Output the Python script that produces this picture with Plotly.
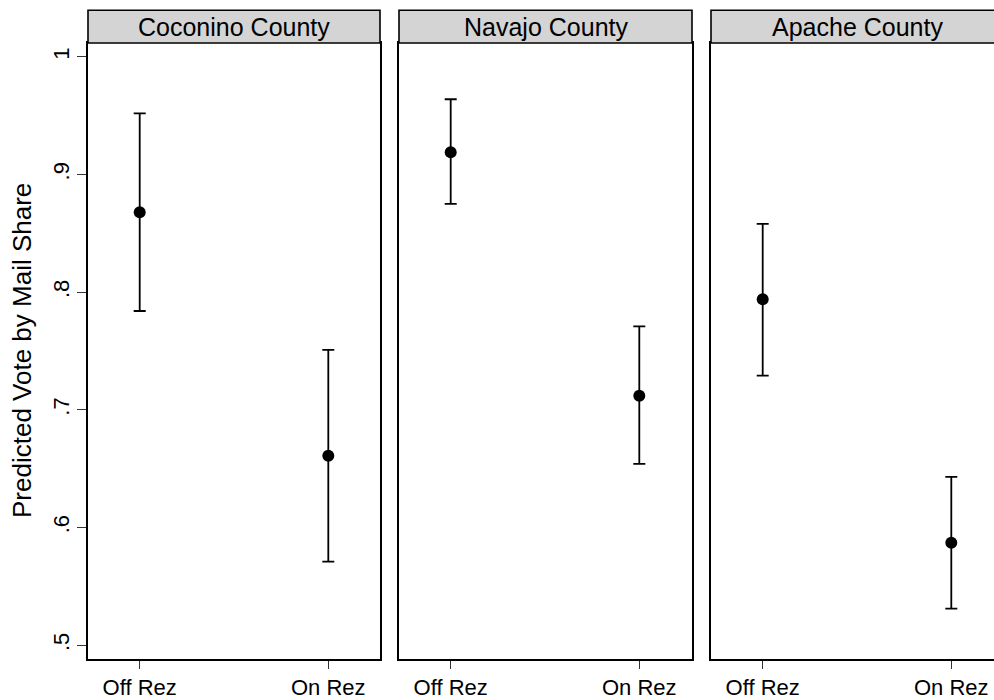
import plotly.graph_objects as go

# ---- data ----
counties = ["Coconino County", "Navajo County", "Apache County"]
categories = ["Off Rez", "On Rez"]
estimate = {
    "Coconino County": [0.868, 0.661],
    "Navajo County": [0.919, 0.712],
    "Apache County": [0.794, 0.587],
}
lower = {
    "Coconino County": [0.784, 0.571],
    "Navajo County": [0.875, 0.654],
    "Apache County": [0.729, 0.531],
}
upper = {
    "Coconino County": [0.952, 0.751],
    "Navajo County": [0.964, 0.771],
    "Apache County": [0.858, 0.643],
}
y_tickvals = [0.5, 0.6, 0.7, 0.8, 0.9, 1.0]
y_ticktext = [".5", ".6", ".7", ".8", ".9", "1"]
y_title = "Predicted Vote by Mail Share"

# ---- layout geometry (pixels) ----
W, H = 994, 700
ML, MR, MT, MB = 88, 0, 43, 36
PW = W - ML - MR
PH = H - MT - MB
panels_px = [(88, 380), (399, 692), (711, 994)]
full_right3 = 1003  # panel 3 continues past the window edge
domains = [((a - ML) / PW, (b - ML) / PW) for a, b in panels_px]
cat_step = 188.6
pad = 51.7 / cat_step
strip_h = 33 / PH
FONT = "Liberation Sans, Arial, Helvetica, sans-serif"

fig = go.Figure()
for i, c in enumerate(counties):
    est = estimate[c]
    fig.add_trace(go.Scatter(
        x=categories, y=est,
        mode="markers",
        marker=dict(color="black", size=12, symbol="circle"),
        error_y=dict(
            type="data", symmetric=False,
            array=[u - e for u, e in zip(upper[c], est)],
            arrayminus=[e - l for e, l in zip(est, lower[c])],
            color="black", thickness=1.8, width=6,
        ),
        xaxis=f"x{i+1 if i else ''}", yaxis=f"y{i+1 if i else ''}",
        showlegend=False, hoverinfo="skip",
    ))

layout = dict(
    width=W, height=H,
    margin=dict(l=ML, r=MR, t=MT, b=MB, pad=0),
    paper_bgcolor="white", plot_bgcolor="white",
    font=dict(family=FONT, color="black", size=22),
    shapes=[], annotations=[],
)
for i, c in enumerate(counties):
    sx = "" if i == 0 else str(i + 1)
    a, b = panels_px[i]
    width_px = b - a
    rng_hi = -pad + width_px / cat_step
    layout[f"xaxis{sx}"] = dict(
        domain=list(domains[i]), anchor=f"y{sx}",
        type="category", range=[-pad, rng_hi],
        showgrid=False, zeroline=False,
        showline=True, linecolor="black", linewidth=1.6, mirror=True,
        ticks="outside", ticklen=8, tickwidth=1.2, tickcolor="#333333",
        tickfont=dict(size=22, family=FONT, color="black"),
        fixedrange=True,
    )
    layout[f"yaxis{sx}"] = dict(
        domain=[0, 1], anchor=f"x{sx}",
        range=[0.4882, 1.0118],
        showgrid=False, zeroline=False,
        showline=True, linecolor="black", linewidth=1.6,
        mirror=(i < 2),
        tickvals=y_tickvals, ticktext=y_ticktext,
        ticks="outside" if i == 0 else "", ticklen=9, tickwidth=1.2, tickcolor="#333333",
        showticklabels=(i == 0), tickangle=-90,
        tickfont=dict(size=22, family=FONT, color="black"),
        fixedrange=True,
    )
    # strip
    x1 = 1.0 if i < 2 else 1.05
    layout["shapes"].append(dict(
        type="rect", xref=f"x{sx} domain", yref="paper",
        x0=0, x1=x1, y0=1, y1=1 + strip_h,
        fillcolor="#d4d4d4", line=dict(color="black", width=1.6), layer="above",
    ))
    right = b if i < 2 else full_right3
    cx = ((a + right) / 2 - ML) / PW
    layout["annotations"].append(dict(
        text=c, xref="paper", yref="paper", x=cx, y=1 + strip_h / 2,
        xanchor="center", yanchor="middle", showarrow=False,
        font=dict(size=25, family=FONT, color="black"),
    ))

layout["annotations"].append(dict(
    text=y_title, xref="paper", yref="paper",
    x=(22 - ML) / PW, y=0.5, xanchor="center", yanchor="middle",
    textangle=-90, showarrow=False,
    font=dict(size=26, family=FONT, color="black"),
))

fig.update_layout(**layout)
fig.write_html(
    "out.html",
    config={"displayModeBar": False, "staticPlot": True},
    post_script="document.body.style.margin='0';document.body.style.overflow='hidden';",
)
